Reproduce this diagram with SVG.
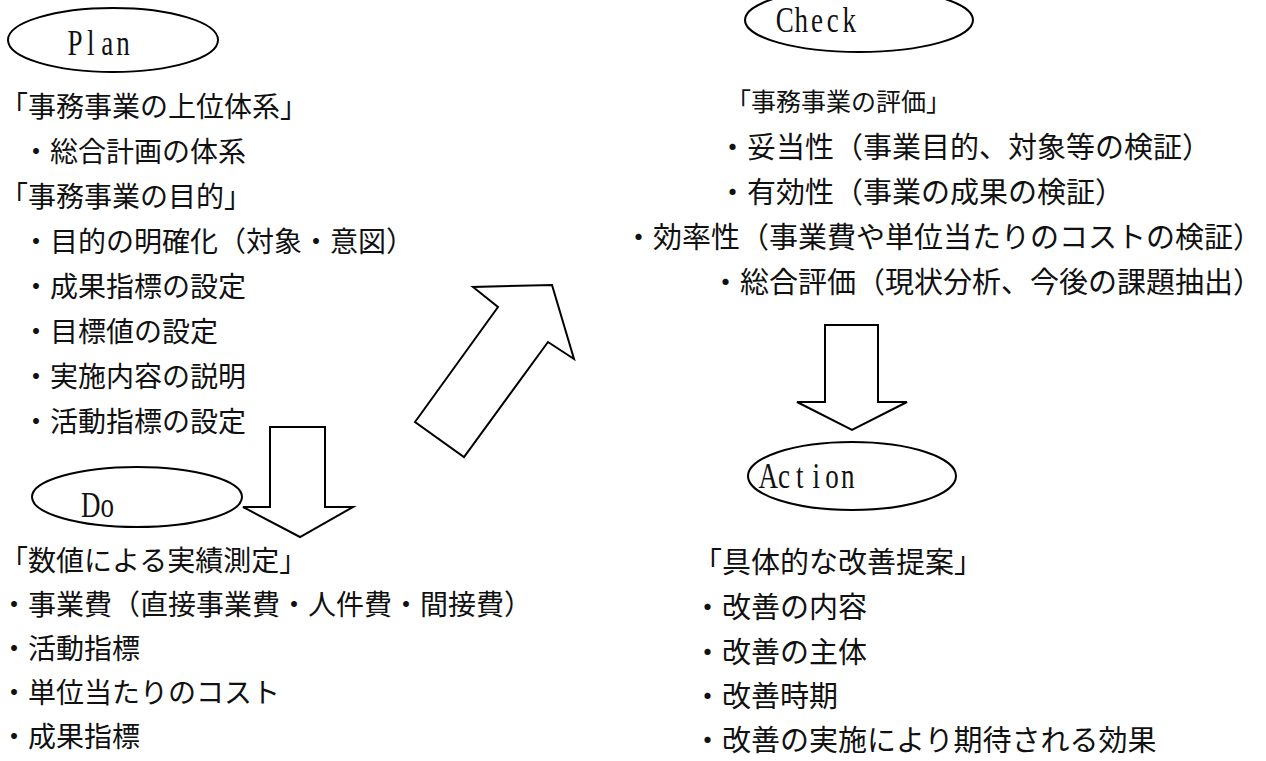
<svg xmlns="http://www.w3.org/2000/svg" width="1266" height="761" viewBox="0 0 1266 761">
<style>
.bg{fill:#ffffff}
.sh{fill:#ffffff;stroke:#000000;stroke-width:2;stroke-linejoin:miter}
.t{font-family:"Noto Sans CJK JP","Noto Sans CJK SC",sans-serif;font-size:28px;fill:#111111;dominant-baseline:central}
.r{font-family:"Noto Sans CJK JP","Noto Sans CJK SC",sans-serif;font-size:29px;fill:#111111;dominant-baseline:central}
.h{font-family:"Noto Sans CJK JP","Noto Sans CJK SC",sans-serif;font-size:25px;fill:#111111;dominant-baseline:central}
.lbl{font-family:"Liberation Serif",serif;font-size:36px;fill:#111111;text-anchor:middle}
</style>
<rect class="bg" x="0" y="0" width="1266" height="761"/>
<g id="connectors">
<polygon class="sh" points="270,427 325,427 325,507 353,507 300,537 243,507 270,507"/>
<polygon class="sh" points="415,422 498,307 473,287 552,285 574,359 548,342 464,457"/>
<polygon class="sh" points="825,325 878,325 878,402 907,402 852,430 797,402 825,402"/>
</g>
<g id="plan">
<ellipse class="sh" cx="113" cy="40" rx="105" ry="32"/>
<g transform="translate(99,55) scale(0.75,1)"><text class="lbl" x="-32 -11 11 32" y="0">Plan</text></g>
<text class="t" x="0" y="105">「事務事業の上位体系」</text>
<text class="t" x="22" y="150">・総合計画の体系</text>
<text class="t" x="0" y="195">「事務事業の目的」</text>
<text class="t" x="22" y="240">・目的の明確化（対象・意図）</text>
<text class="t" x="22" y="285">・成果指標の設定</text>
<text class="t" x="22" y="330">・目標値の設定</text>
<text class="t" x="22" y="375">・実施内容の説明</text>
<text class="t" x="22" y="420">・活動指標の設定</text>
</g>
<g id="do">
<ellipse class="sh" cx="137" cy="497" rx="105" ry="30"/>
<g transform="translate(99,517) scale(0.75,1)"><text class="lbl" x="-11 11" y="0">Do</text></g>
<text class="t" x="0" y="559">「数値による実績測定」</text>
<text class="t" x="0" y="603">・事業費（直接事業費・人件費・間接費）</text>
<text class="t" x="0" y="647">・活動指標</text>
<text class="t" x="0" y="691">・単位当たりのコスト</text>
<text class="t" x="0" y="735">・成果指標</text>
</g>
<g id="check">
<ellipse class="sh" cx="859" cy="20" rx="114" ry="32"/>
<g transform="translate(817,32) scale(0.75,1)"><text class="lbl" x="-43 -21 0 21 43" y="0">Check</text></g>
<text class="h" x="726" y="100">「事務事業の評価」</text>
<text class="r" x="718" y="145">・妥当性（事業目的、対象等の検証）</text>
<text class="r" x="718" y="190">・有効性（事業の成果の検証）</text>
<text class="r" x="624" y="235">・効率性（事業費や単位当たりのコストの検証）</text>
<text class="r" x="711" y="280">・総合評価（現状分析、今後の課題抽出）</text>
</g>
<g id="action">
<ellipse class="sh" cx="852" cy="476" rx="104" ry="34"/>
<g transform="translate(808,488) scale(0.75,1)"><text class="lbl" x="-53 -32 -11 11 32 53" y="0">Action</text></g>
<text class="r" x="693" y="560">「具体的な改善提案」</text>
<text class="r" x="693" y="605">・改善の内容</text>
<text class="r" x="693" y="650">・改善の主体</text>
<text class="r" x="693" y="694">・改善時期</text>
<text class="r" x="693" y="738">・改善の実施により期待される効果</text>
</g>
</svg>
